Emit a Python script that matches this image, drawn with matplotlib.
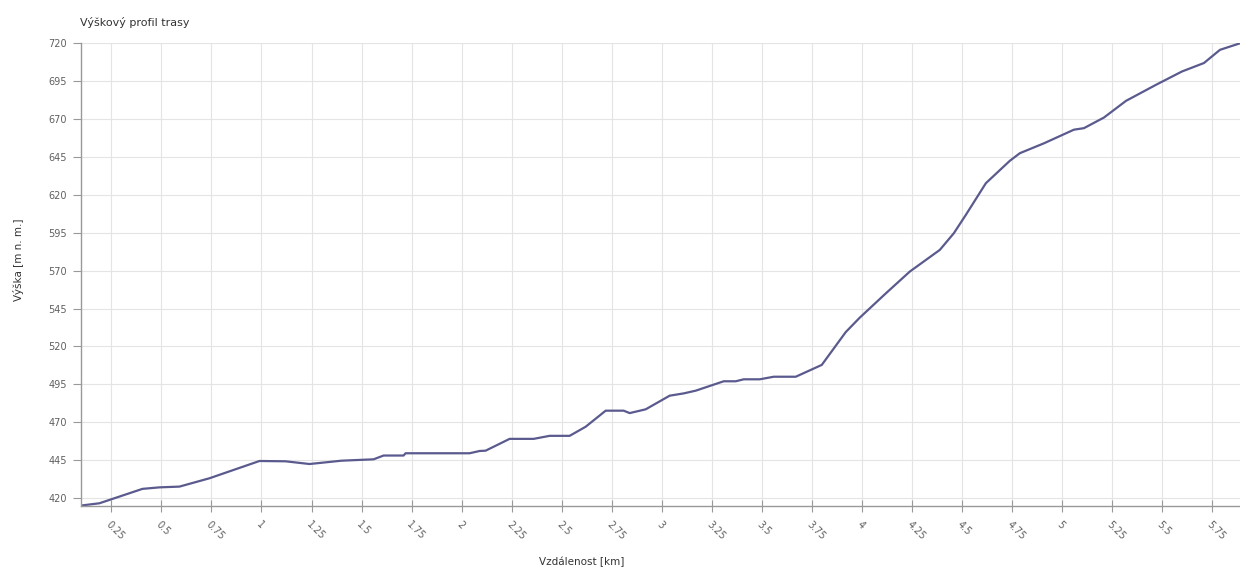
import matplotlib
matplotlib.use("Agg")
import matplotlib.pyplot as plt

# distance (km) and elevation (m n. m.)
distance_km = [0.098, 0.19, 0.405, 0.49, 0.59, 0.74, 0.99, 1.12, 1.24, 1.40, 1.56, 1.61,
               1.71, 1.72, 2.04, 2.09, 2.12, 2.24, 2.36, 2.44, 2.54, 2.62, 2.72, 2.81,
               2.84, 2.92, 3.04, 3.11, 3.17, 3.31, 3.37, 3.41, 3.49, 3.56, 3.67, 3.80,
               3.92, 3.99, 4.12, 4.24, 4.39, 4.46, 4.52, 4.62, 4.74, 4.79, 4.91, 5.06,
               5.11, 5.21, 5.32, 5.47, 5.60, 5.71, 5.79, 5.89]
elevation_m = [415, 416.5, 426, 427, 427.5, 433, 444.4, 444.2, 442.4, 444.6, 445.5, 448,
               448, 449.5, 449.5, 451, 451.2, 459, 459, 461, 461, 467, 477.6, 477.6,
               476, 478.5, 487.5, 489, 490.8, 497, 497, 498.3, 498.3, 500, 500, 507.8,
               529.5, 539, 555, 569.4, 583.7, 594.7, 606.8, 627.7, 642.5, 647.5, 654, 663,
               664, 671, 682, 692.6, 701.4, 707, 715.7, 720]

x_ticks = [0.25, 0.5, 0.75, 1, 1.25, 1.5, 1.75, 2, 2.25, 2.5, 2.75, 3, 3.25, 3.5,
           3.75, 4, 4.25, 4.5, 4.75, 5, 5.25, 5.5, 5.75]
x_tick_labels = ["0.25", "0.5", "0.75", "1", "1.25", "1.5", "1.75", "2", "2.25", "2.5",
                 "2.75", "3", "3.25", "3.5", "3.75", "4", "4.25", "4.5", "4.75", "5",
                 "5.25", "5.5", "5.75"]
y_ticks = [420, 445, 470, 495, 520, 545, 570, 595, 620, 645, 670, 695, 720]
y_tick_labels = [str(v) for v in y_ticks]

title = "Výškový profil trasy"
x_label = "Vzdálenost [km]"
y_label = "Výška [m n. m.]"

W, H = 1240, 570
fig = plt.figure(figsize=(W / 100, H / 100), dpi=100)
ax = fig.add_axes([81 / W, 1 - 505.7 / H, 1 - 81 / W, (505.7 - 43.3) / H])

ax.plot(distance_km, elevation_m, color="#5a5a8e", linewidth=1.6, solid_joinstyle="round")

ax.set_xlim(0.098, 5.89)
ax.set_ylim(414.9, 720)
ax.set_xticks(x_ticks)
ax.set_xticklabels(x_tick_labels, rotation=-45, ha="left", rotation_mode="anchor",
                   fontsize=7, color="#606060")
ax.set_yticks(y_ticks)
ax.set_yticklabels(y_tick_labels, fontsize=7, color="#606060")

ax.grid(True, color="#e4e4e4", linewidth=0.8)
ax.set_axisbelow(True)
for s in ("top", "right"):
    ax.spines[s].set_visible(False)
for s in ("left", "bottom"):
    ax.spines[s].set_color("#999999")
    ax.spines[s].set_linewidth(1.0)
ax.tick_params(axis="x", direction="inout", length=8, color="#999999", pad=6)
ax.tick_params(axis="y", direction="out", length=6, color="#999999", pad=4)

fig.text(80 / W, 1 - 23 / H, title, fontsize=8, color="#333333", ha="left", va="center")
fig.text(582 / W, 1 - 562 / H, x_label, fontsize=7.5, color="#333333", ha="center", va="center")
fig.text(19 / W, 1 - 260 / H, y_label, fontsize=7.5, color="#333333", ha="center",
         va="center", rotation=90)

fig.savefig("out.png", dpi=100)
